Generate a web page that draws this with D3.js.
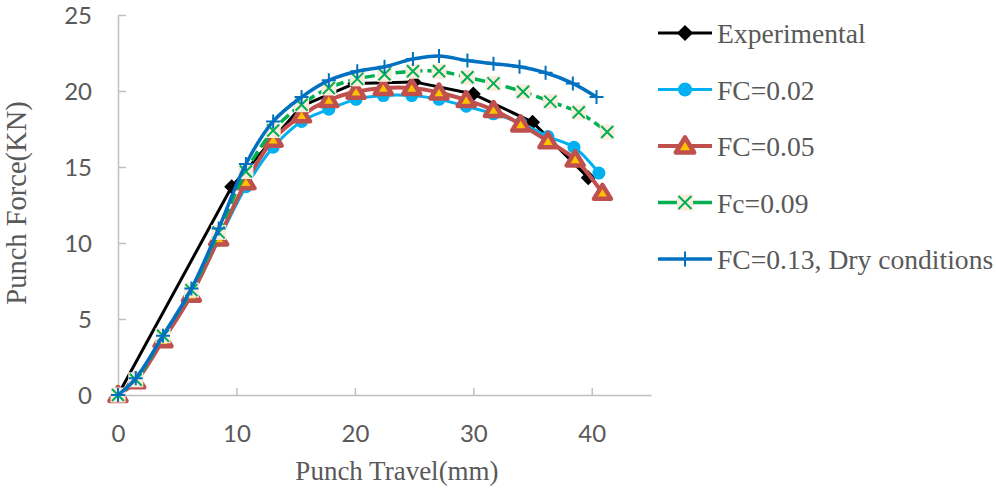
<!DOCTYPE html>
<html><head><meta charset="utf-8">
<script src="https://cdn.jsdelivr.net/npm/d3@7"></script>
<style>body{margin:0;background:#fff}</style>
</head><body><svg id="c" width="996" height="489"></svg>
<script>
// ---- data ----
const seriesNames = ["Experimental", "FC=0.02", "FC=0.05", "Fc=0.09", "FC=0.13, Dry conditions"];
const expX = [0, 9.6, 15.5, 20, 25, 30, 35, 39.7];
const expY = [0, 13.7, 19.0, 20.5, 20.6, 19.8, 17.95, 14.3];
const fc002X = [0, 1.5, 3.8, 6.2, 8.5, 10.8, 13.1, 15.5, 17.8, 20.1, 22.4, 24.8, 27.1, 29.4, 31.7, 34.0, 36.3, 38.5, 40.6];
const fc002Y = [0, 0.95, 3.7, 6.6, 10.2, 13.7, 16.3, 18.0, 18.8, 19.45, 19.7, 19.7, 19.45, 19.0, 18.5, 17.9, 17.0, 16.3, 14.6];
const fc005X = [0, 1.5, 3.8, 6.2, 8.5, 10.8, 13.1, 15.5, 17.8, 20.1, 22.4, 24.8, 27.1, 29.4, 31.7, 34.0, 36.3, 38.6, 40.9];
const fc005Y = [0, 0.9, 3.6, 6.6, 10.3, 14.0, 16.8, 18.4, 19.4, 19.95, 20.2, 20.2, 19.9, 19.4, 18.75, 17.8, 16.7, 15.5, 13.3];
const fc009X = [0, 1.5, 3.8, 6.2, 8.5, 10.8, 13.1, 15.5, 17.8, 20.2, 22.5, 24.9, 27.1, 29.5, 31.7, 34.2, 36.5, 38.9, 41.3];
const fc009Y = [0, 1.0, 3.9, 6.9, 10.7, 14.7, 17.4, 19.1, 20.2, 20.8, 21.1, 21.3, 21.3, 20.9, 20.5, 19.95, 19.3, 18.6, 17.3];
const fc013X = [0, 1.5, 3.8, 6.2, 8.5, 10.8, 13.1, 15.5, 17.8, 20.2, 22.5, 24.9, 27.1, 29.5, 31.7, 33.9, 36.1, 38.4, 40.4];
const fc013Y = [0, 1.1, 3.9, 7.0, 10.95, 15.2, 18.0, 19.6, 20.7, 21.3, 21.6, 22.1, 22.3, 22.0, 21.8, 21.6, 21.2, 20.5, 19.6];
const xTicks = [0, 10, 20, 30, 40];
const yTicks = [0, 5, 10, 15, 20, 25];

// ---- layout ----
const L = 118, R = 651, T = 15, B = 395;
const x = d3.scaleLinear().domain([0, 45]).range([L, R]);
const y = d3.scaleLinear().domain([0, 25]).range([B, T]);
const svg = d3.select("#c");
const axisColor = "#bfbfbf", textColor = "#595959";

// axes
const xa = svg.append("g").attr("transform", `translate(0,${B})`)
  .call(d3.axisBottom(x).tickValues(xTicks).tickSizeInner(-7).tickSizeOuter(0).tickPadding(34));
const ya = svg.append("g").attr("transform", `translate(${L},0)`)
  .call(d3.axisLeft(y).tickValues(yTicks).tickSizeInner(-8).tickSizeOuter(0).tickPadding(34));
[xa, ya].forEach(g => {
  g.select(".domain").attr("stroke", axisColor).attr("stroke-width", 1.5);
  g.selectAll(".tick line").attr("stroke", axisColor).attr("stroke-width", 1.5);
  g.selectAll(".tick text").attr("fill", textColor).attr("font-family", "Lato").attr("font-size", 24);
});
xa.selectAll(".tick text").attr("dy", 0).attr("y", 47);
ya.selectAll(".tick text").attr("x", -26).attr("dy", "0.36em");

// titles
svg.append("text").attr("x", 397).attr("y", 480).attr("text-anchor", "middle")
  .attr("font-family", "Liberation Serif").attr("font-size", 27).attr("fill", textColor).text("Punch Travel(mm)");
svg.append("text").attr("transform", "translate(26,203) rotate(-90)").attr("text-anchor", "middle")
  .attr("font-family", "Liberation Serif").attr("font-size", 28.5).attr("fill", textColor).text("Punch Force(KN)");

// series styling
const series = [
  {name: seriesNames[0], xs: expX, ys: expY, color: "#000000", width: 3, dash: null, curve: d3.curveLinear, marker: "diamond"},
  {name: seriesNames[1], xs: fc002X, ys: fc002Y, color: "#00B0F0", width: 3, dash: null, curve: d3.curveCatmullRom, marker: "circle"},
  {name: seriesNames[2], xs: fc005X, ys: fc005Y, color: "#C0504D", width: 4, dash: null, curve: d3.curveCatmullRom, marker: "triangle"},
  {name: seriesNames[3], xs: fc009X, ys: fc009Y, color: "#00B050", width: 3.5, dash: "11,5", curve: d3.curveCatmullRom, marker: "cross"},
  {name: seriesNames[4], xs: fc013X, ys: fc013Y, color: "#0070C0", width: 3.5, dash: null, curve: d3.curveCatmullRom, marker: "plus"}
];

function drawMarker(g, type, cx, cy, color, k = 1) {
  if (type === "diamond") {
    const r = 7.5 * k;
    g.append("path").attr("d", `M${cx},${cy-r}L${cx+r},${cy}L${cx},${cy+r}L${cx-r},${cy}Z`).attr("fill", color);
  } else if (type === "circle") {
    g.append("circle").attr("cx", cx).attr("cy", cy).attr("r", 6.5 * k).attr("fill", color);
  } else if (type === "triangle") {
    g.append("path").attr("d", `M${cx},${cy-8*k}L${cx+8.5*k},${cy+6*k}L${cx-8.5*k},${cy+6*k}Z`)
      .attr("fill", "#FFC000").attr("stroke", color).attr("stroke-width", 4.5).attr("stroke-linejoin", "round");
  } else if (type === "cross") {
    const h = 7.5 * k, c = 6 * k;
    g.append("rect").attr("x", cx-h).attr("y", cy-h).attr("width", 2*h).attr("height", 2*h).attr("fill", "#F9EBDD");
    g.append("path").attr("d", `M${cx-c},${cy-c}L${cx+c},${cy+c}M${cx+c},${cy-c}L${cx-c},${cy+c}`)
      .attr("stroke", color).attr("stroke-width", 2);
  } else if (type === "plus") {
    const c = 7 * k;
    g.append("path").attr("d", `M${cx-c},${cy}L${cx+c},${cy}M${cx},${cy-c}L${cx},${cy+c}`)
      .attr("stroke", color).attr("stroke-width", 2);
  }
}

series.forEach(s => {
  const pts = s.xs.map((v, i) => [v, s.ys[i]]);
  const g = svg.append("g");
  g.append("path").datum(pts)
    .attr("d", d3.line().x(d => x(d[0])).y(d => y(d[1])).curve(s.curve))
    .attr("fill", "none").attr("stroke", s.color).attr("stroke-width", s.width)
    .attr("stroke-dasharray", s.dash).attr("stroke-linejoin", "round");
  pts.forEach(p => drawMarker(g, s.marker, x(p[0]), y(p[1]), s.color));
});

// legend
const legY0 = 33, legStep = 56.5;
series.forEach((s, i) => {
  const ly = legY0 + i * legStep;
  const g = svg.append("g");
  g.append("line").attr("x1", 658).attr("x2", 712).attr("y1", ly).attr("y2", ly)
    .attr("stroke", s.color).attr("stroke-width", s.width);
  drawMarker(g, s.marker, 685, ly, s.color, 1.08);
  g.append("text").attr("x", 717).attr("y", ly + 10).attr("font-family", "Liberation Serif")
    .attr("font-size", 27.6).attr("fill", textColor).text(s.name);
});
</script></body></html>
